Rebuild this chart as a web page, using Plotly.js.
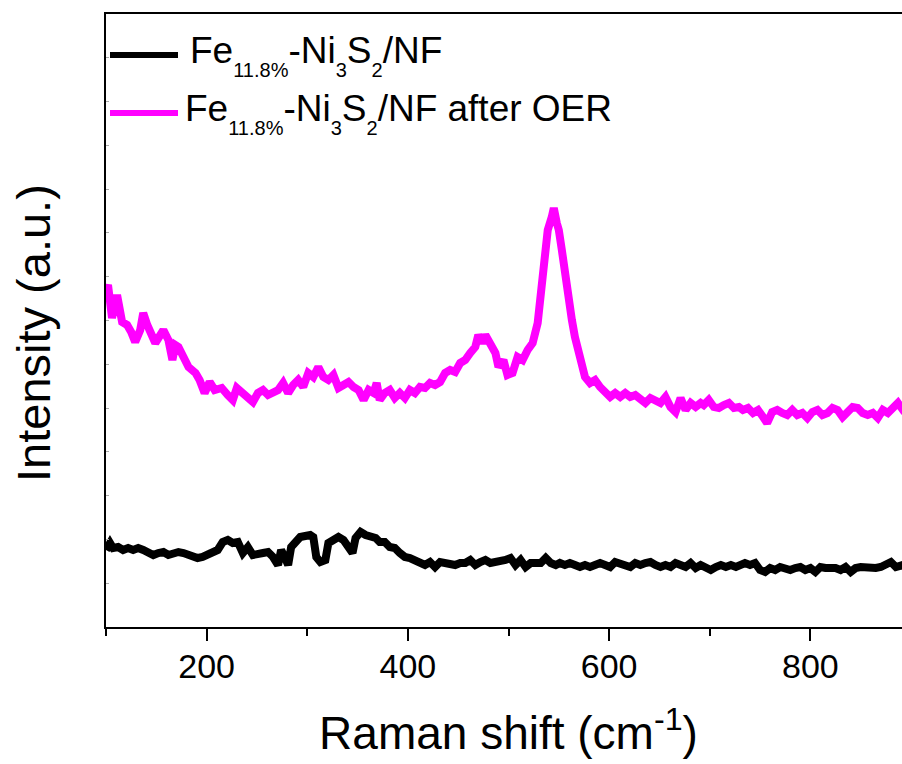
<!DOCTYPE html>
<html>
<head>
<meta charset="utf-8">
<script src="https://cdn.plot.ly/plotly-3.0.1.min.js"></script>
<style>
html,body{margin:0;padding:0;overflow:hidden;background:#fff;width:902px;height:764px;}
#chart{width:931px;height:764px;}
</style>
</head>
<body>
<div id="chart"></div>
<script>
// Raman shift (cm-1) and intensity (a.u.)
var pristineX = [100,104,107,112,117,122,127,132,137,142,147,152,157,162,167,172,177,182,187,191,196,201,206,211,216,221,226,231,236,241,246,251,256,261,266,271,274,278,281,284,288,293,298,303,306,309,313,318,321,326,331,336,341,345,348,353,358,363,368,372,377,382,387,392,397,402,407,412,417,422,427,432,437,442,447,452,457,462,467,472,477,482,487,492,497,502,507,512,517,522,527,532,537,542,547,551,556,561,566,571,576,581,586,591,596,601,606,611,616,621,626,631,636,641,646,651,656,661,666,671,676,681,686,691,696,701,706,711,716,721,726,731,735,740,745,750,755,760,765,770,775,780,785,790,795,800,805,810,815,820,825,830,835,840,845,850,855,860,865,870,875,880,885,892,900];
var pristineY = [770,840,790,800,770,790,770,790,770,740,720,740,750,720,740,750,740,720,710,690,700,720,740,770,850,870,840,850,740,800,720,740,740,750,700,620,770,690,620,800,850,900,910,920,900,700,650,670,840,870,900,870,800,740,890,950,920,900,890,850,850,800,790,740,700,690,670,640,620,650,600,650,640,650,620,640,640,670,620,650,670,640,650,640,670,690,620,670,600,640,650,640,690,640,620,640,620,640,620,600,620,600,620,640,620,600,650,640,620,600,640,620,640,650,620,600,620,600,640,620,600,640,590,620,590,570,600,620,600,620,600,620,640,620,640,570,550,590,570,600,590,570,590,600,570,590,550,600,590,600,590,570,600,550,590,600,590,600,590,600,620,650,600,620,600];

var oerX = [100,102,106,111,116,121,125,129,134,137,141,145,149,154,157,162,166,169,172,177,182,189,193,198,203,208,215,221,226,230,236,241,246,251,256,261,266,271,276,281,286,291,296,301,306,311,316,321,326,331,336,341,346,351,356,361,366,369,372,377,382,387,392,397,402,407,412,417,422,427,432,437,442,447,452,457,462,467,470,474,477,482,487,490,495,499,504,509,514,519,524,529,532,535,539,543,545,548,550,553,556,559,563,566,569,573,576,581,586,591,596,601,606,611,616,621,626,631,636,641,646,651,656,661,666,671,676,681,686,691,694,699,704,709,714,719,724,729,733,738,743,748,753,757,762,767,772,777,782,787,792,797,802,807,812,817,822,827,832,837,842,847,852,857,862,867,872,877,882,887,892,900];
var oerY = [3370,3420,3090,3320,3050,3020,2950,2850,2970,3140,3020,2920,2840,2920,2970,2870,2670,2820,2800,2700,2600,2540,2470,2340,2450,2370,2390,2320,2270,2390,2340,2300,2250,2340,2370,2320,2340,2370,2440,2340,2420,2470,2400,2540,2500,2600,2500,2470,2520,2390,2420,2450,2400,2370,2270,2370,2340,2440,2270,2340,2370,2290,2340,2290,2370,2340,2400,2390,2440,2420,2450,2540,2570,2550,2640,2670,2740,2800,2920,2840,2920,2840,2740,2600,2670,2520,2540,2700,2670,2770,2840,3040,3300,3570,3970,4100,4190,4040,3970,3770,3540,3270,3070,2900,2770,2600,2500,2440,2470,2400,2340,2300,2340,2300,2340,2300,2320,2270,2240,2290,2270,2240,2300,2200,2150,2290,2170,2240,2200,2240,2220,2270,2200,2190,2220,2240,2190,2200,2170,2190,2140,2170,2100,2040,2150,2170,2140,2120,2170,2120,2140,2090,2150,2170,2120,2140,2190,2170,2100,2150,2200,2190,2140,2120,2140,2090,2170,2140,2190,2240,2170,2200];

var seriesNames = ['Fe<sub>11.8%</sub>-Ni<sub>3</sub>S<sub>2</sub>/NF', 'Fe<sub>11.8%</sub>-Ni<sub>3</sub>S<sub>2</sub>/NF after OER'];
var seriesColors = ['#000000', '#FF00FF'];
var xTickVals = [200, 400, 600, 800];
var xTickText = ['200', '400', '600', '800'];

var FONT = 'Liberation Sans, Arial, Helvetica, sans-serif';

function legendLabel(base) {
  // larger subscript offset, as in the reference typography
  return base.replace(/<sub>([^<]*)<\/sub>/g, '<span style="font-size:20px;baseline-shift:-14px">$1</span>');
}

var traces = [
  {x: pristineX, y: pristineY, type: 'scatter', mode: 'lines', name: seriesNames[0],
   line: {color: seriesColors[0], width: 8, shape: 'linear'}, showlegend: false},
  {x: oerX, y: oerY, type: 'scatter', mode: 'lines', name: seriesNames[1],
   line: {color: seriesColors[1], width: 8, shape: 'linear'}, showlegend: false}
];

var plotW = 805, plotH = 613;
function px(xp) { return (xp - 106) / plotW; }
function py(yp) { return (627 - yp) / plotH; }

var layout = {
  width: 931, height: 764,
  margin: {l: 106, r: 20, t: 14, b: 137},
  paper_bgcolor: '#ffffff', plot_bgcolor: '#ffffff',
  font: {family: FONT, color: '#000'},
  showlegend: false,
  xaxis: {
    range: [100, 900],
    tickmode: 'array', tickvals: xTickVals, ticktext: xTickText,
    ticks: 'outside', ticklen: 12, tickwidth: 2, tickcolor: '#000',
    minor: {tickmode: 'array', tickvals: [100, 300, 500, 700, 900], ticks: 'outside', ticklen: 7, tickwidth: 2, tickcolor: '#000', showgrid: false},
    showline: true, linecolor: '#000', linewidth: 2, mirror: true,
    showgrid: false, zeroline: false,
    tickfont: {family: FONT, size: 34, color: '#000'},
    ticklabelstandoff: -4,
    title: {text: 'Raman shift (cm<sup>-1</sup>)', font: {family: FONT, size: 46, color: '#000'}, standoff: 33}
  },
  yaxis: {
    range: [0, 6130],
    tick0: 0, dtick: 438,
    ticks: 'inside', ticklen: 3, tickwidth: 1, tickcolor: '#aaaaaa',
    showticklabels: false,
    showline: true, linecolor: '#000', linewidth: 2, mirror: true,
    showgrid: false, zeroline: false
  },
  shapes: [
    {type: 'line', xref: 'paper', yref: 'paper', x0: px(110), x1: px(178), y0: py(55), y1: py(55),
     line: {color: seriesColors[0], width: 6}},
    {type: 'line', xref: 'paper', yref: 'paper', x0: px(110), x1: px(178), y0: py(113), y1: py(113),
     line: {color: seriesColors[1], width: 6}}
  ],
  annotations: [
    {xref: 'paper', yref: 'paper', x: px(33), y: py(333), text: 'Intensity (a.u.)', textangle: -90,
     showarrow: false, xanchor: 'center', yanchor: 'middle', font: {family: FONT, size: 47, color: '#000'}},
    {xref: 'paper', yref: 'paper', x: px(188), y: py(55), text: legendLabel(seriesNames[0]),
     showarrow: false, xanchor: 'left', yanchor: 'middle', align: 'left', font: {family: FONT, size: 37, color: '#000'}},
    {xref: 'paper', yref: 'paper', x: px(183), y: py(113), text: legendLabel(seriesNames[1]),
     showarrow: false, xanchor: 'left', yanchor: 'middle', align: 'left', font: {family: FONT, size: 37, color: '#000'}}
  ]
};

Plotly.newPlot('chart', traces, layout, {staticPlot: true, displayModeBar: false});
</script>
</body>
</html>
